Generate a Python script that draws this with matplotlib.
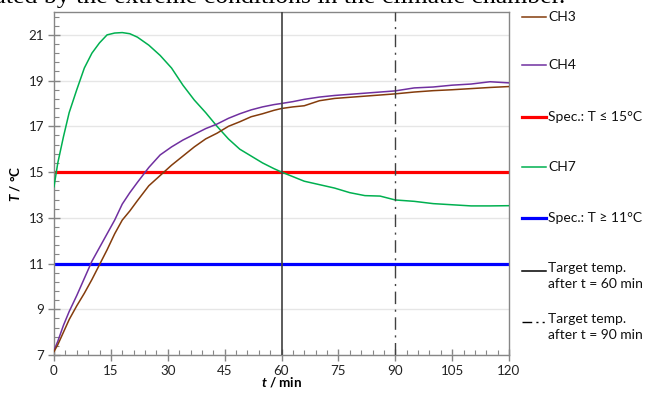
import matplotlib
matplotlib.use("Agg")
import matplotlib.pyplot as plt
from matplotlib.lines import Line2D

# ---------------- data ----------------
t_min = [0, 1, 2.5, 4, 6, 8, 10, 12, 14, 16, 18, 20, 22, 25, 28, 31, 34, 37, 40,
         43, 46, 49, 52, 55, 58, 60, 63, 66, 70, 74, 78, 82, 86, 90, 95, 100,
         105, 110, 115, 120]

ch7 = [14.36, 15.4, 16.55, 17.6, 18.6, 19.55, 20.2, 20.65, 21.0, 21.08, 21.1,
       21.05, 20.9, 20.55, 20.1, 19.55, 18.8, 18.15, 17.6, 17.0, 16.45, 16.0,
       15.7, 15.4, 15.15, 15.0, 14.8, 14.6, 14.45, 14.3, 14.1, 13.97, 13.95,
       13.78, 13.72, 13.62, 13.57, 13.52, 13.52, 13.53]

ch4 = [7.2, 7.6, 8.3, 8.9, 9.6, 10.35, 11.1, 11.7, 12.3, 12.9, 13.6, 14.1,
       14.55, 15.2, 15.75, 16.1, 16.4, 16.65, 16.9, 17.1, 17.35, 17.55, 17.72,
       17.85, 17.95, 18.0, 18.08, 18.18, 18.28, 18.35, 18.4, 18.45, 18.5,
       18.55, 18.68, 18.72, 18.8, 18.85, 18.95, 18.9]

ch3 = [7.15, 7.45, 8.0, 8.55, 9.15, 9.7, 10.3, 10.95, 11.6, 12.3, 12.9, 13.3,
       13.75, 14.4, 14.85, 15.3, 15.7, 16.1, 16.45, 16.7, 17.0, 17.2, 17.42,
       17.55, 17.7, 17.78, 17.85, 17.9, 18.12, 18.22, 18.27, 18.32, 18.37,
       18.42, 18.5, 18.56, 18.6, 18.65, 18.7, 18.74]

spec_upper = 15
spec_lower = 11
target_times = [60, 90]

x_ticks = [0, 15, 30, 45, 60, 75, 90, 105, 120]
y_ticks = [7, 9, 11, 13, 15, 17, 19, 21]

labels = ["CH3", "CH4", "Spec.: T \u2264 15\u00b0C", "CH7",
          "Spec.: T \u2265 11\u00b0C", "Target temp.\nafter t = 60 min",
          "Target temp.\nafter t = 90 min"]
caption = "generated by the extreme conditions in the climatic chamber."

# ---------------- styling ----------------
plt.rcParams['font.family'] = ['Lato', 'DejaVu Sans']
plt.rcParams['mathtext.fontset'] = 'custom'
plt.rcParams['mathtext.bfit'] = 'Lato:bold:italic'

C_CH3 = "#843C0C"
C_CH4 = "#7030A0"
C_CH7 = "#00B050"
C_RED = "#FF0000"
C_BLUE = "#0000FF"
C_AX = "#868686"
C_VL = "#404040"
DASHDOT = (0, (9, 4, 1.5, 4))
FS = 9.6
FS_LEG = 10.0

W, H = 645, 397
fig = plt.figure(figsize=(W / 100, H / 100), dpi=100)
ax = fig.add_axes([54 / W, 1 - 355 / H, (509 - 54) / W, (355 - 12) / H])

ax.plot(t_min, ch7, color=C_CH7, lw=1.1, zorder=3)
ax.plot(t_min, ch4, color=C_CH4, lw=1.1, zorder=4)
ax.plot(t_min, ch3, color=C_CH3, lw=1.1, zorder=4)
ax.axhline(spec_upper, color=C_RED, lw=2.3, zorder=2)
ax.axhline(spec_lower, color=C_BLUE, lw=2.3, zorder=2)
ax.axvline(target_times[0], color=C_VL, lw=1.2, zorder=5)
ax.axvline(target_times[1], color=C_VL, lw=1.0, ls=DASHDOT, zorder=5)

ax.set_xlim(0, 120)
ax.set_ylim(7, 22)
ax.set_xticks(x_ticks)
ax.set_yticks(y_ticks)
ax.set_xticks(range(0, 121, 3), minor=True)
ax.set_yticks([7 + 0.4 * i for i in range(38)], minor=True)
ax.yaxis.grid(True, which='major', color="#E6E6E6", lw=1.0, zorder=0)
ax.set_axisbelow(True)

for s in ax.spines.values():
    s.set_color(C_AX)
    s.set_linewidth(1.0)

ax.tick_params(which='major', direction='inout', length=8, width=1.0,
               color=C_AX, labelsize=FS, labelcolor="#222222", pad=3)
ax.tick_params(which='minor', direction='in', length=3.5, width=0.8,
               color=C_AX)
ax.tick_params(axis='x', which='major', pad=3)

ax.set_xlabel(r"$\mathbfit{t}$ / min", fontsize=FS, fontweight='bold',
              labelpad=-1)
ax.set_ylabel(r"$\mathbfit{T}$ / °C", fontsize=FS, fontweight='bold',
              labelpad=5)

# ---------------- legend (manually laid out like the reference) ----------
handles = [
    dict(color=C_CH3, lw=1.1),
    dict(color=C_CH4, lw=1.1),
    dict(color=C_RED, lw=2.3),
    dict(color=C_CH7, lw=1.1),
    dict(color=C_BLUE, lw=2.3),
    dict(color="black", lw=1.1),
    dict(color="black", lw=1.0, ls=(0, (7, 3, 1.5, 3, 1.5, 3))),
]
entry_y = [17, 65, 117, 167, 218, 271, 322]   # pixel rows of handles
for hd, lab, yp in zip(handles, labels, entry_y):
    yf = 1 - yp / H
    fig.add_artist(Line2D([522 / W, 546 / W], [yf, yf],
                          transform=fig.transFigure, **hd))
    two = '\n' in lab
    fig.text(548 / W, yf + (9 / H if two else 0), lab, ha='left',
             va='top' if two else 'center',
             fontsize=FS_LEG, linespacing=1.4, color="#111111")

fig.text(565 / W, 1 - 3 / H, caption, ha='right', va='baseline',
         fontsize=18.5, family='Liberation Serif')

fig.savefig("out.png", dpi=100)
